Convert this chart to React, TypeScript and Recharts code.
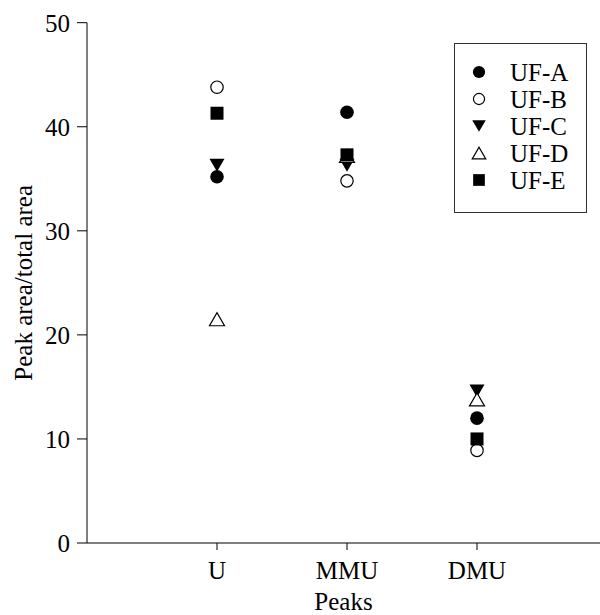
import React from 'react';
import { ScatterChart, Scatter, XAxis, YAxis, Legend } from 'recharts';

const categories = ['U', 'MMU', 'DMU'];
const seriesNames = ['UF-A', 'UF-B', 'UF-C', 'UF-D', 'UF-E'];
const ufA = [35.2, 41.4, 12.0];
const ufB = [43.8, 34.8, 8.9];
const ufC = [36.3, 36.3, 14.6];
const ufD = [21.5, 37.2, 13.8];
const ufE = [41.3, 37.3, 10.0];
const yTicks = [0, 10, 20, 30, 40, 50];
const xTicks = [1, 2, 3];

const FONT = '"Liberation Serif", "Times New Roman", serif';

type Kind = 'circle' | 'openCircle' | 'triDown' | 'triUp' | 'square';
const kinds: Kind[] = ['circle', 'openCircle', 'triDown', 'triUp', 'square'];
const values = [ufA, ufB, ufC, ufD, ufE];

function drawMarker(kind: Kind, cx: number, cy: number, s = 1) {
  switch (kind) {
    case 'circle':
      return <circle cx={cx} cy={cy} r={6.8 * s} fill="#000" />;
    case 'openCircle':
      return <circle cx={cx} cy={cy} r={6.2 * s} fill="#fff" stroke="#000" strokeWidth={1.2} />;
    case 'triDown':
      return (
        <polygon
          points={`${cx - 7.5 * s},${cy - 6.5 * s} ${cx + 7.5 * s},${cy - 6.5 * s} ${cx},${cy + 6.5 * s}`}
          fill="#000"
        />
      );
    case 'triUp':
      return (
        <polygon
          points={`${cx - 7.5 * s},${cy + 6.5 * s} ${cx + 7.5 * s},${cy + 6.5 * s} ${cx},${cy - 6.5 * s}`}
          fill="#fff"
          stroke="#000"
          strokeWidth={1.2}
        />
      );
    case 'square':
    default:
      return <rect x={cx - 6.5 * s} y={cy - 6.5 * s} width={13 * s} height={13 * s} fill="#000" />;
  }
}

const makeShape = (kind: Kind) => (props: any) => {
  const { cx, cy } = props;
  if (cx == null || cy == null) return <g />;
  return <g>{drawMarker(kind, cx, cy)}</g>;
};

const LegendBox = () => (
  <svg width={133} height={170} style={{ display: 'block' }}>
    <rect x={0.5} y={0.5} width={132} height={169} fill="#fff" stroke="#333" strokeWidth={1} />
    {seriesNames.map((n, i) => (
      <g key={n}>
        {drawMarker(kinds[i], 25, 29 + i * 27, 0.9)}
        <text x={56} y={29 + i * 27 + 8.5} fontSize={25} fontFamily={FONT} fill="#000">
          {n}
        </text>
      </g>
    ))}
  </svg>
);

export default function App() {
  const plotWidth = 600 - 87;
  const xMax = plotWidth / 130;
  return (
    <div style={{ position: 'absolute', left: 0, top: 0, width: 600, height: 615, background: '#fff' }}>
      <ScatterChart width={600} height={615} margin={{ top: 22.7, right: 0, bottom: 0, left: 0 }}>
        <XAxis
          type="number"
          dataKey="x"
          domain={[0, xMax]}
          ticks={xTicks}
          allowDataOverflow
          tickFormatter={(v: number) => categories[v - 1] ?? ''}
          height={72}
          tickSize={7}
          tickMargin={11}
          stroke="#000"
          tick={{ fill: '#000', fontSize: 25, fontFamily: FONT }}
          label={{ value: 'Peaks', position: 'insideBottom', offset: 5, fill: '#000', fontSize: 25, fontFamily: FONT }}
        />
        <YAxis
          type="number"
          dataKey="y"
          domain={[0, 50]}
          ticks={yTicks}
          width={87}
          tickSize={10}
          tickMargin={7}
          stroke="#000"
          tick={{ fill: '#000', fontSize: 25, fontFamily: FONT }}
          label={{
            value: 'Peak area/total area',
            angle: -90,
            position: 'insideLeft',
            offset: 23.5,
            fill: '#000',
            fontSize: 25,
            fontFamily: FONT,
            style: { textAnchor: 'middle' },
          }}
        />
        <Legend
          layout="horizontal"
          verticalAlign="middle"
          align="center"
          content={() => <LegendBox />}
          wrapperStyle={{ position: 'absolute', left: 454, top: 43, width: 133, height: 170 }}
        />
        {seriesNames.map((n, i) => (
          <Scatter
            key={n}
            name={n}
            data={categories.map((c, j) => ({ x: j + 1, y: values[i][j], cat: c }))}
            shape={makeShape(kinds[i])}
            isAnimationActive={false}
          />
        ))}
      </ScatterChart>
    </div>
  );
}
